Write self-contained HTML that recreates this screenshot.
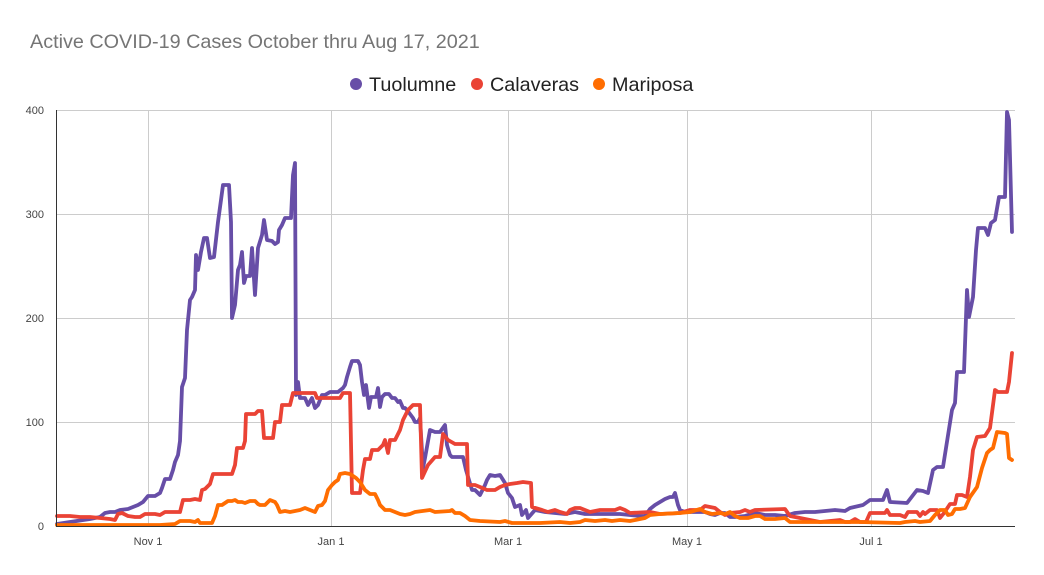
<!DOCTYPE html>
<html><head><meta charset="utf-8"><style>
body{margin:0;background:#fff;}
svg{display:block;font-family:"Liberation Sans",Arial,sans-serif;}
</style></head><body>
<svg width="1044" height="575" viewBox="0 0 1044 575">
<rect width="1044" height="575" fill="#fff"/>
<text x="30" y="48" font-size="19.8" fill="#757575">Active COVID-19 Cases October thru Aug 17, 2021</text>
<g font-size="19.8" fill="#222">
<circle cx="356" cy="84" r="6" fill="#674ea7"/><text x="369" y="91">Tuolumne</text>
<circle cx="477" cy="84" r="6" fill="#ea4335"/><text x="490" y="91">Calaveras</text>
<circle cx="599" cy="84" r="6" fill="#ff6d01"/><text x="612" y="91">Mariposa</text>
</g>
<g stroke="#ccc" stroke-width="1">
<line x1="56" y1="110.5" x2="1015" y2="110.5"/><line x1="56" y1="214.5" x2="1015" y2="214.5"/>
<line x1="56" y1="318.5" x2="1015" y2="318.5"/><line x1="56" y1="422.5" x2="1015" y2="422.5"/>
<line x1="148.5" y1="110" x2="148.5" y2="526"/><line x1="331.5" y1="110" x2="331.5" y2="526"/>
<line x1="508.5" y1="110" x2="508.5" y2="526"/><line x1="687.5" y1="110" x2="687.5" y2="526"/>
<line x1="871.5" y1="110" x2="871.5" y2="526"/>
</g>
<g font-size="11" fill="#444" text-anchor="end">
<text x="44" y="114">400</text><text x="44" y="218">300</text><text x="44" y="322">200</text><text x="44" y="426">100</text><text x="44" y="530">0</text>
</g>
<g font-size="11" fill="#444" text-anchor="middle">
<text x="148" y="545">Nov 1</text><text x="331" y="545">Jan 1</text><text x="508" y="545">Mar 1</text><text x="687" y="545">May 1</text><text x="871" y="545">Jul 1</text>
</g>
<g fill="none" stroke-width="3.8" stroke-linejoin="round" stroke-linecap="round">
<polyline stroke="#674ea7" points="57,524 70,522 90,519 100,517 105,513 110,512 115,512 120,510 128,509 133,507 138,505 143,502 148,496 155,496 160,493 162,488 165,479 170,479 173,470 175,462 178,455 180,441 182,387 185,378 187,330 190,300 192,297 195,290 196,255 198,270 201,252 204,238 207,238 210,258 214,257 218,222 221,200 223,185 229,185 231,222 232,318 235,305 238,270 240,265 242,252 244,283 246,276 250,276 252,248 255,295 258,248 262,235 264,220 267,240 272,241 275,244 278,242 279,230 282,225 285,218 291,218 293,175 295,163 296,395 298,382 300,398 305,398 308,405 312,398 315,408 318,405 322,395 325,395 330,392 338,392 343,388 345,385 347,377 350,367 352,361 358,361 360,365 362,382 364,395 366,385 369,408 371,397 376,397 378,388 380,407 382,397 385,394 389,394 392,398 395,398 398,402 400,401 403,408 405,408 407,410 410,414 413,418 415,422 418,422 420,418 423,468 425,458 430,430 435,432 440,432 445,425 447,445 450,455 452,457 463,457 466,470 472,490 475,490 480,495 485,485 487,480 490,475 495,476 500,475 505,483 508,493 512,498 515,507 520,505 522,515 526,510 528,518 535,510 545,512 555,513 565,514 575,512 585,514 600,514 610,514 620,514 630,515 640,516 645,516 650,509 655,505 660,502 665,499 670,497 673,497 675,493 678,505 680,510 685,512 690,512 700,512 705,512 710,514 715,515 720,513 725,513 730,517 735,517 745,516 755,513 765,515 775,515 785,516 795,513 805,512 815,512 825,511 835,510 845,511 850,508 863,505 870,500 883,500 887,490 890,502 907,503 917,490 923,491 928,493 933,470 937,467 943,467 952,410 955,403 957,372 964,372 967,290 969,317 973,297 976,250 978,228 985,228 988,235 991,223 995,220 999,197 1005,197 1007,112 1009,120 1012,232"/>
<polyline stroke="#ea4335" points="57,516 70,516 80,517 90,517 100,518 110,519 115,520 118,514 122,513 128,516 135,517 140,517 145,514 150,514 155,514 160,515 165,512 180,512 183,500 190,500 195,499 200,500 202,490 205,489 210,484 213,474 232,474 235,465 237,448 243,448 245,441 246,414 255,414 258,411 262,411 264,438 273,438 275,422 280,422 282,405 290,405 293,393 315,393 317,398 340,398 343,393 350,393 352,493 360,493 363,470 365,459 370,459 372,450 378,450 383,445 385,440 388,453 390,440 395,440 400,430 403,420 408,410 413,405 420,405 422,478 428,465 435,457 440,457 443,434 448,440 455,444 467,444 468,485 475,485 480,487 487,490 495,490 500,487 505,485 510,484 517,483 523,482 531,483 532,507 542,510 548,512 555,510 560,512 567,514 570,510 575,508 580,508 585,510 590,512 600,510 615,510 620,508 625,510 630,513 650,512 660,514 680,513 690,510 700,510 705,506 710,507 715,508 720,512 725,515 730,513 740,512 745,510 750,512 755,510 785,509 790,516 800,518 810,520 820,522 840,520 845,522 850,522 855,519 860,522 866,522 870,513 885,513 887,510 890,515 900,515 905,517 908,512 917,512 920,516 923,512 925,514 930,510 937,510 940,518 944,513 946,510 950,504 955,504 957,495 962,495 967,497 970,477 973,450 977,437 985,436 990,428 995,390 998,392 1007,392 1009,382 1012,353"/>
<polyline stroke="#ff6d01" points="57,525 160,525 175,524 180,521 190,521 195,522 198,520 200,523 212,523 215,516 218,505 222,505 225,503 228,501 232,501 235,500 238,502 242,502 245,503 250,501 255,501 258,504 260,505 265,505 268,502 270,500 275,502 277,505 280,512 285,511 290,512 295,511 300,510 305,508 310,510 315,512 318,506 322,505 325,501 328,490 332,485 335,482 338,480 340,474 345,473 350,474 356,478 360,482 365,490 370,494 375,494 378,500 380,505 385,510 390,510 395,512 400,514 405,515 410,514 415,512 430,510 435,512 450,511 452,510 455,513 460,513 465,516 470,520 480,521 500,522 505,521 512,523 540,523 560,522 570,523 580,522 585,520 595,521 605,520 612,521 620,520 630,521 640,519 645,518 650,515 660,514 680,513 690,512 700,509 705,512 712,514 720,513 725,514 730,512 735,516 740,518 748,518 755,516 760,516 765,519 775,519 785,518 790,522 860,522 900,523 905,522 915,521 920,522 930,521 935,515 940,510 945,510 948,515 952,514 955,509 960,509 965,508 970,497 977,487 982,468 987,453 990,450 993,448 997,432 1005,433 1007,434 1009,458 1012,460"/>
</g>
<line x1="56" y1="526.5" x2="1015" y2="526.5" stroke="#333" stroke-width="1"/>
<line x1="56.5" y1="110" x2="56.5" y2="527" stroke="#333" stroke-width="1"/>
</svg>
</body></html>
